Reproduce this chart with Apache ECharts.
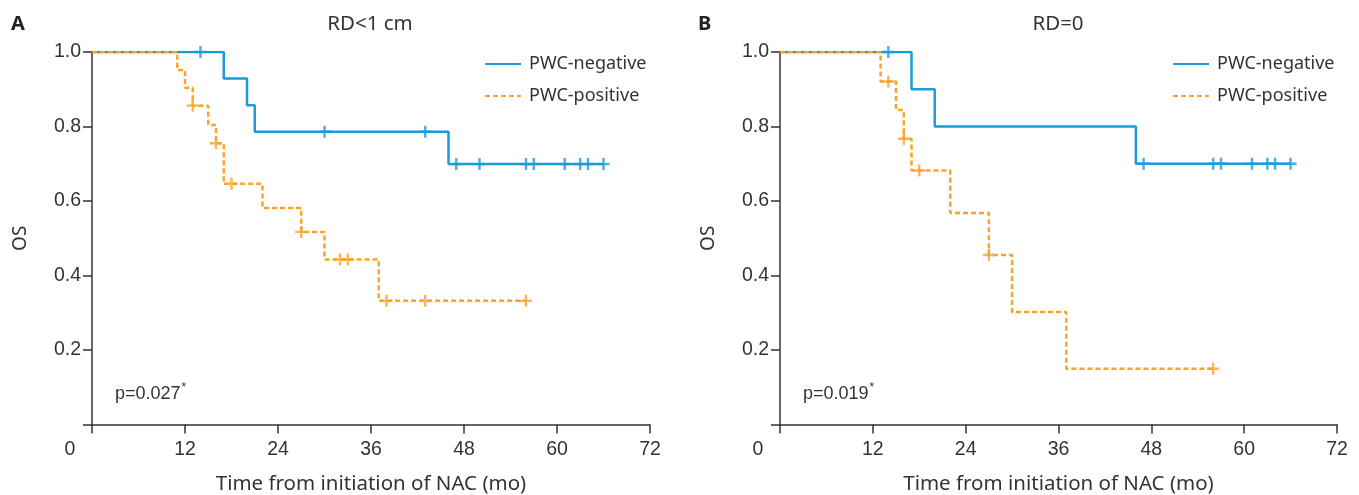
<!DOCTYPE html>
<html>
<head>
<meta charset="utf-8">
<title>OS by PWC</title>
<script src="https://cdn.jsdelivr.net/npm/echarts@6/dist/echarts.min.js"></script>
<style>
  html, body { margin: 0; padding: 0; background: #fff; }
  #main { width: 1359px; height: 495px; }
</style>
</head>
<body>
<div id="main"></div>
<script type="text/javascript">
// x ticks (months) and y ticks (OS)
var xTicks = [0, 12, 24, 36, 48, 60, 72];
var yTicks = [0, 0.2, 0.4, 0.6, 0.8, 1.0];

// panel A: RD<1 cm  -- step times / survival, censor times
var aNegTime = [0, 17, 20, 21, 46, 66];
var aNegSurv = [1.0, 0.929, 0.857, 0.786, 0.699, 0.699];
var aNegCens = [14, 30, 43, 47, 50, 56, 57, 61, 63, 64, 66];
var aPosTime = [0, 11, 12, 13, 15, 16, 17, 22, 27, 30, 37, 56];
var aPosSurv = [1.0, 0.952, 0.904, 0.856, 0.804, 0.755, 0.646, 0.581, 0.517, 0.443, 0.332, 0.332];
var aPosCens = [13, 16, 18, 27, 32, 33, 38, 43, 56];

// panel B: RD=0
var bNegTime = [0, 17, 20, 46, 66];
var bNegSurv = [1.0, 0.9, 0.8, 0.7, 0.7];
var bNegCens = [14, 47, 56, 57, 61, 63, 64, 66];
var bPosTime = [0, 13, 15, 16, 17, 22, 27, 30, 37, 56];
var bPosSurv = [1.0, 0.921, 0.844, 0.767, 0.682, 0.568, 0.455, 0.302, 0.150, 0.150];
var bPosCens = [14, 16, 18, 27, 56];

var blue = '#1e9ad6';
var orange = '#f8a42a';
var ink = '#333';
var plus = 'path://M4,0 H6 V4 H10 V6 H6 V10 H4 V6 H0 V4 H4 Z';

function pairs(t, s) {
    return t.map(function (v, i) { return [v, s[i]]; });
}
function survAt(t, s, x) {
    var v = s[0];
    for (var i = 0; i < t.length; i++) { if (t[i] <= x) v = s[i]; }
    return v;
}
function censors(t, s, c) {
    return c.map(function (x) { return [x, survAt(t, s, x)]; });
}

function xAxisFor(idx) {
    return {
        type: 'value', gridIndex: idx, min: 0, max: 72, interval: 12,
        name: 'Time from initiation of NAC (mo)', nameLocation: 'middle', nameGap: 49,
        nameTextStyle: { color: ink, fontSize: 20.5, fontFamily: 'Noto Sans' },
        axisLine: { lineStyle: { color: ink, width: 1.5 } },
        axisTick: { length: 9, lineStyle: { color: ink, width: 1.5 } },
        axisLabel: {
            margin: 15, color: ink, fontSize: 19.5, fontFamily: 'Liberation Sans',
            formatter: function (v) { return v === 0 ? '{o|0}' : String(v); },
            rich: { o: { fontSize: 19.5, fontFamily: 'Liberation Sans', color: ink, padding: [0, 44, 0, 0] } }
        },
        splitLine: { show: false }
    };
}
function yAxisFor(idx) {
    return {
        type: 'value', gridIndex: idx, min: 0, max: 1, interval: 0.2,
        name: 'OS', nameLocation: 'middle', nameGap: 62,
        nameTextStyle: { color: ink, fontSize: 19, fontFamily: 'Noto Sans' },
        axisLine: { show: true, lineStyle: { color: ink, width: 1.5 } },
        axisTick: { show: true, length: 9, lineStyle: { color: ink, width: 1.5 } },
        axisLabel: {
            margin: 11, color: ink, fontSize: 19.5, fontFamily: 'Liberation Sans',
            formatter: function (v) { return v === 0 ? '' : v.toFixed(1); }
        },
        splitLine: { show: false }
    };
}
function stepLine(name, idx, data, color, dashed) {
    return {
        name: name, type: 'line', xAxisIndex: idx, yAxisIndex: idx, step: 'end',
        data: data, showSymbol: false, symbol: 'none', silent: true, z: dashed ? 3 : 2,
        lineStyle: { color: color, width: 2.5, type: dashed ? [5, 3] : 'solid' },
        itemStyle: { color: color }
    };
}
function censorMarks(idx, data, color) {
    return {
        name: 'censored', type: 'scatter', xAxisIndex: idx, yAxisIndex: idx,
        data: data, symbol: plus, symbolSize: 12, silent: true, z: 4,
        itemStyle: { color: color }
    };
}
function legendFor(left) {
    return {
        data: ['PWC-negative', 'PWC-positive'], orient: 'vertical', left: left, top: 50,
        itemWidth: 36, itemHeight: 14, itemGap: 14, selectedMode: false,
        itemStyle: { opacity: 0 },
        textStyle: { color: ink, fontSize: 18, fontFamily: 'Noto Sans', padding: [0, 0, 0, 3] }
    };
}
function pText(x, str) {
    return {
        type: 'text', left: x, top: 382,
        style: {
            text: '{p|' + str + '}{s|*}',
            rich: {
                p: { fontSize: 18, fontFamily: 'Liberation Sans', fill: ink, color: ink },
                s: { fontSize: 12, fontFamily: 'Liberation Sans', fill: ink, color: ink, verticalAlign: 'top', padding: [0, 0, 12, 1] }
            }
        }
    };
}
function headText(x, str, bold) {
    return {
        type: 'text', x: x, y: 14,
        style: {
            text: str, fontSize: bold ? 20 : 20.5, fontWeight: bold ? 'bold' : 'normal',
            fontFamily: 'Noto Sans', fill: bold ? '#222' : ink,
            align: bold ? 'left' : 'center', verticalAlign: 'top'
        }
    };
}

var myChart = echarts.init(document.getElementById('main'));

var option = {
    animation: false,
    grid: [
        { left: 92, right: 709, top: 52, bottom: 70.5, outerBoundsMode: 'none' },
        { left: 780, right: 22, top: 52, bottom: 70.5, outerBoundsMode: 'none' }
    ],
    xAxis: [xAxisFor(0), xAxisFor(1)],
    yAxis: [yAxisFor(0), yAxisFor(1)],
    legend: [legendFor(479), legendFor(1167)],
    graphic: [
        headText(11, 'A', true),
        headText(698, 'B', true),
        headText(370, 'RD<1 cm', false),
        headText(1058, 'RD=0', false),
        pText(115, 'p=0.027'),
        pText(803, 'p=0.019')
    ],
    series: [
        stepLine('PWC-negative', 0, pairs(aNegTime, aNegSurv), blue, false),
        stepLine('PWC-positive', 0, pairs(aPosTime, aPosSurv), orange, true),
        censorMarks(0, censors(aNegTime, aNegSurv, aNegCens), blue),
        censorMarks(0, censors(aPosTime, aPosSurv, aPosCens), orange),
        stepLine('PWC-negative', 1, pairs(bNegTime, bNegSurv), blue, false),
        stepLine('PWC-positive', 1, pairs(bPosTime, bPosSurv), orange, true),
        censorMarks(1, censors(bNegTime, bNegSurv, bNegCens), blue),
        censorMarks(1, censors(bPosTime, bPosSurv, bPosCens), orange)
    ]
};

if (option && typeof option === 'object') {
    myChart.setOption(option);
}
</script>
</body>
</html>
